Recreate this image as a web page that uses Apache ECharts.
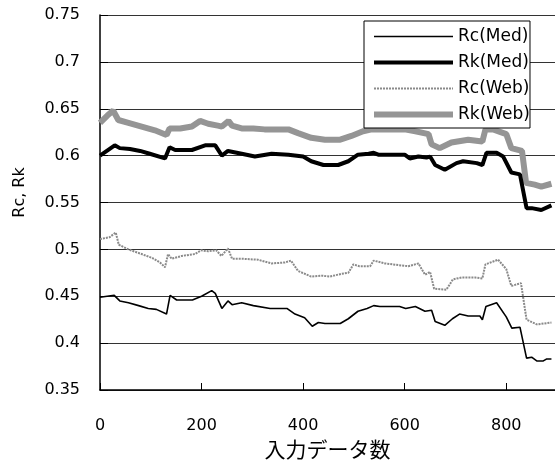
<!DOCTYPE html>
<html>
<head>
<meta charset="utf-8">
<script src="https://cdn.jsdelivr.net/npm/echarts@6/dist/echarts.min.js"></script>
<style>html,body{margin:0;padding:0;background:#fff;}#c{width:555px;height:465px;}</style>
</head>
<body>
<div id="c"></div>
<script>
var seriesNames = ['Rc(Med)', 'Rk(Med)', 'Rc(Web)', 'Rk(Web)'];
var yTicks = [0.35, 0.4, 0.45, 0.5, 0.55, 0.6, 0.65, 0.7, 0.75];
var xTicks = [0, 200, 400, 600, 800];

var rcMedX = [0,28,39,56,76,95,111,131,138,151,182,200,220,227,240,252,260,279,302,335,368,384,403,418,430,443,473,489,508,526,539,551,590,602,621,640,653,660,679,694,708,725,748,753,760,781,800,811,827,840,850,860,873,879,889];
var rcMedY = [0.449,0.451,0.445,0.443,0.440,0.437,0.436,0.431,0.451,0.446,0.446,0.450,0.456,0.453,0.437,0.445,0.441,0.443,0.440,0.437,0.437,0.431,0.427,0.418,0.422,0.421,0.421,0.426,0.434,0.437,0.440,0.439,0.439,0.437,0.439,0.434,0.435,0.423,0.419,0.426,0.431,0.429,0.429,0.425,0.439,0.443,0.428,0.416,0.417,0.384,0.385,0.381,0.381,0.383,0.383];

var rkMedX = [0,29,39,59,79,98,128,137,148,181,207,227,240,252,279,305,338,371,400,416,440,469,489,508,529,539,548,600,610,627,643,650,660,679,702,715,742,753,761,781,794,810,827,840,850,869,889];
var rkMedY = [0.600,0.611,0.608,0.607,0.605,0.602,0.597,0.609,0.606,0.606,0.611,0.611,0.600,0.605,0.602,0.599,0.602,0.601,0.599,0.594,0.590,0.590,0.594,0.601,0.602,0.603,0.601,0.601,0.597,0.599,0.598,0.599,0.590,0.585,0.592,0.594,0.592,0.590,0.603,0.603,0.599,0.582,0.580,0.544,0.544,0.542,0.547];

var rcWebX = [0,19,31,37,56,82,102,118,128,134,141,161,187,199,213,229,239,252,260,279,311,338,364,376,390,416,437,453,476,489,499,511,532,539,561,607,627,640,650,658,682,695,712,739,753,759,784,800,810,829,840,860,889];
var rcWebY = [0.511,0.513,0.518,0.505,0.500,0.495,0.491,0.486,0.481,0.495,0.490,0.493,0.495,0.499,0.498,0.499,0.493,0.501,0.490,0.490,0.489,0.485,0.486,0.488,0.477,0.471,0.472,0.471,0.474,0.475,0.484,0.482,0.482,0.488,0.485,0.482,0.485,0.473,0.476,0.458,0.457,0.468,0.470,0.470,0.469,0.484,0.489,0.479,0.461,0.464,0.425,0.420,0.422];

var rkWebX = [0,15,26,36,56,82,108,131,137,158,181,197,213,232,240,253,260,279,302,324,371,390,416,443,473,495,518,535,600,621,647,653,669,692,725,753,759,774,800,810,831,839,856,869,889];
var rkWebY = [0.635,0.643,0.648,0.638,0.635,0.631,0.627,0.622,0.629,0.629,0.631,0.637,0.634,0.632,0.631,0.637,0.632,0.629,0.629,0.628,0.628,0.624,0.619,0.617,0.617,0.621,0.626,0.628,0.628,0.626,0.623,0.612,0.608,0.614,0.617,0.615,0.628,0.628,0.623,0.608,0.605,0.571,0.569,0.567,0.570];

function pairs(xs, ys) { return xs.map(function (x, i) { return [x, ys[i]]; }); }

// legend icon paths (79 x 17 box), line of thickness t centred vertically
var ICON_W = 79, ICON_H = 17;
function iconPath(t, dashOn, dashOff) {
  var y0 = (ICON_H - t) / 2;
  var p = 'path://M0,0h0.01v0.01h-0.01z M0,' + (ICON_H - 0.01) + 'h0.01v0.01h-0.01z ';
  if (!dashOn) {
    p += 'M0,' + y0 + 'h' + ICON_W + 'v' + t + 'h-' + ICON_W + 'z';
  } else {
    for (var x = 0; x < ICON_W; x += dashOn + dashOff) {
      var w = Math.min(dashOn, ICON_W - x);
      p += 'M' + x + ',' + y0 + 'h' + w + 'v' + t + 'h-' + w + 'z ';
    }
  }
  return p;
}

var chart = echarts.init(document.getElementById('c'), null, {renderer: 'canvas'});
var styles = [
  {color: '#000', width: 1.6, type: 'solid'},
  {color: '#000', width: 4, type: 'solid'},
  {color: '#8a8a8a', width: 2, type: [2, 1]},
  {color: '#959595', width: 6, type: 'solid'}
];
var icons = [iconPath(1.6), iconPath(4), iconPath(2, 2, 1), iconPath(6)];
var datas = [pairs(rcMedX, rcMedY), pairs(rkMedX, rkMedY), pairs(rcWebX, rcWebY), pairs(rkWebX, rkWebY)];

chart.setOption({
  animation: false,
  backgroundColor: '#fff',
  textStyle: {fontFamily: 'DejaVu Sans'},
  grid: {left: 100, right: 0, top: 15, bottom: 74, containLabel: false},
  legend: {
    data: seriesNames.map(function (n, i) {
      return {name: n, icon: icons[i], itemStyle: {color: styles[i].color, borderWidth: 0}};
    }),
    orient: 'vertical',
    left: 364, top: 21,
    padding: [7, 0, 5, 10],
    itemGap: 9,
    itemWidth: ICON_W, itemHeight: ICON_H,
    backgroundColor: '#fff',
    borderColor: '#000', borderWidth: 1,
    textStyle: {fontFamily: 'DejaVu Sans', fontSize: 17, color: '#000'}
  },
  xAxis: {
    type: 'value', min: 0, max: 896, interval: 200,
    name: '入力データ数', nameLocation: 'middle', nameGap: 49,
    nameTextStyle: {fontFamily: 'Noto Sans CJK JP', fontSize: 21, color: '#000'},
    axisLine: {show: true, lineStyle: {color: '#000', width: 1.5}},
    axisTick: {show: true, inside: true, length: 7, lineStyle: {color: '#000', width: 1}},
    axisLabel: {fontFamily: 'DejaVu Sans', fontSize: 16, color: '#000', margin: 28, showMaxLabel: false,
      formatter: function (v) { return xTicks.indexOf(v) >= 0 ? String(v) : ''; }},
    splitLine: {show: false}
  },
  yAxis: {
    type: 'value', min: 0.35, max: 0.75, interval: 0.05,
    name: 'Rc, Rk', nameLocation: 'middle', nameGap: 72,
    nameTextStyle: {fontFamily: 'DejaVu Sans', fontSize: 16, color: '#000', padding: [0, 0, 0, 20]},
    axisLine: {show: true, lineStyle: {color: '#000', width: 1.5}},
    axisTick: {show: true, inside: true, length: 8, lineStyle: {color: '#000', width: 1}},
    axisLabel: {fontFamily: 'DejaVu Sans', fontSize: 16, color: '#000', margin: 20,
      formatter: function (v) {
        for (var i = 0; i < yTicks.length; i++) { if (Math.abs(yTicks[i] - v) < 1e-6) return String(yTicks[i]); }
        return '';
      }},
    splitLine: {show: true, lineStyle: {color: '#333', width: 1}}
  },
  series: seriesNames.map(function (n, i) {
    return {
      name: n, type: 'line', data: datas[i],
      symbol: 'none', showSymbol: false,
      lineStyle: styles[i],
      itemStyle: {color: styles[i].color},
      z: 2 + (3 - i)
    };
  })
});
</script>
</body>
</html>
